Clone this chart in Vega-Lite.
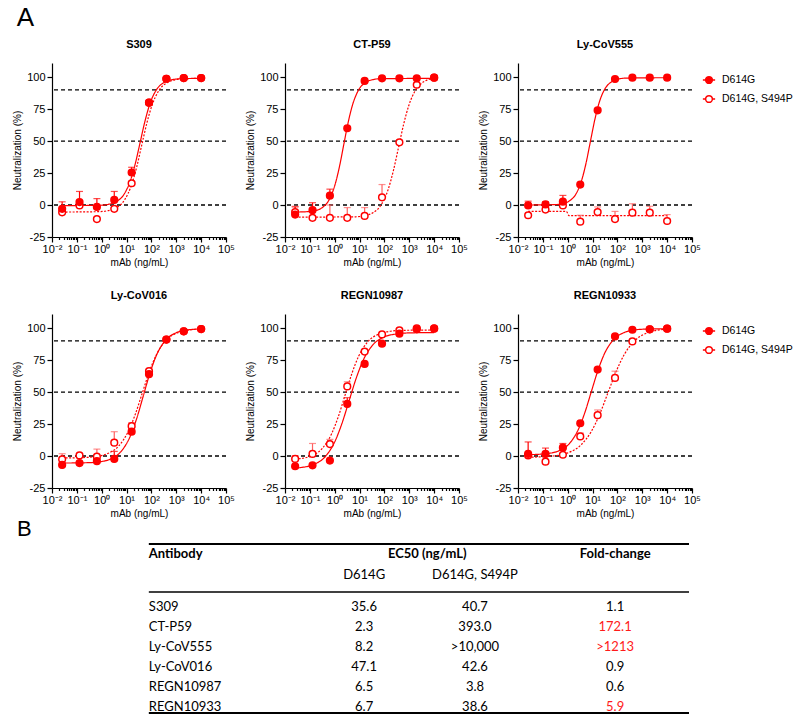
{
"$schema": "https://vega.github.io/schema/vega-lite/v6.json",
"padding": {"left": 12, "top": 5, "right": 5, "bottom": 5},
"background": "white",
"title": {"text": "A", "anchor": "start", "fontSize": 26, "fontWeight": "normal", "offset": 8, "frame": "bounds", "font": "Liberation Sans", "dx": 4},
"datasets": {
"levels": [{"y": 0}, {"y": 50}, {"y": 90}],
"points": [
{"ab":"S309","v":"D614G, S494P","lx":-1.592,"y":-5.7},
{"ab":"S309","v":"D614G, S494P","lx":-0.893,"y":-0.3},
{"ab":"S309","v":"D614G, S494P","lx":-0.194,"y":-11},
{"ab":"S309","v":"D614G, S494P","lx":0.505,"y":-3},
{"ab":"S309","v":"D614G, S494P","lx":1.204,"y":17},
{"ab":"S309","v":"D614G, S494P","lx":1.903,"y":80},
{"ab":"S309","v":"D614G, S494P","lx":2.602,"y":98.7},
{"ab":"S309","v":"D614G, S494P","lx":3.301,"y":99.2},
{"ab":"S309","v":"D614G, S494P","lx":4,"y":99.2},
{"ab":"CT-P59","v":"D614G, S494P","lx":-1.592,"y":-5.5,"hi":-1},
{"ab":"CT-P59","v":"D614G, S494P","lx":-0.893,"y":-10},
{"ab":"CT-P59","v":"D614G, S494P","lx":-0.194,"y":-10,"hi":0},
{"ab":"CT-P59","v":"D614G, S494P","lx":0.505,"y":-10,"hi":-2},
{"ab":"CT-P59","v":"D614G, S494P","lx":1.204,"y":-8.5,"hi":-2},
{"ab":"CT-P59","v":"D614G, S494P","lx":1.903,"y":6,"hi":16},
{"ab":"CT-P59","v":"D614G, S494P","lx":2.602,"y":49},
{"ab":"CT-P59","v":"D614G, S494P","lx":3.301,"y":94},
{"ab":"CT-P59","v":"D614G, S494P","lx":4,"y":99.5},
{"ab":"Ly-CoV555","v":"D614G, S494P","lx":-1.592,"y":-8},
{"ab":"Ly-CoV555","v":"D614G, S494P","lx":-0.893,"y":-3.6},
{"ab":"Ly-CoV555","v":"D614G, S494P","lx":-0.194,"y":-0.3},
{"ab":"Ly-CoV555","v":"D614G, S494P","lx":0.505,"y":-13,"hi":-8},
{"ab":"Ly-CoV555","v":"D614G, S494P","lx":1.204,"y":-5.5,"hi":-1.5},
{"ab":"Ly-CoV555","v":"D614G, S494P","lx":1.903,"y":-11,"hi":-5},
{"ab":"Ly-CoV555","v":"D614G, S494P","lx":2.602,"y":-6,"hi":1},
{"ab":"Ly-CoV555","v":"D614G, S494P","lx":3.301,"y":-6,"hi":-1},
{"ab":"Ly-CoV555","v":"D614G, S494P","lx":4,"y":-12.5,"hi":-7.5},
{"ab":"Ly-CoV016","v":"D614G, S494P","lx":-1.592,"y":-2.6,"hi":1.8},
{"ab":"Ly-CoV016","v":"D614G, S494P","lx":-0.893,"y":0.5},
{"ab":"Ly-CoV016","v":"D614G, S494P","lx":-0.194,"y":-0.5,"hi":5.4},
{"ab":"Ly-CoV016","v":"D614G, S494P","lx":0.505,"y":10.4,"hi":19},
{"ab":"Ly-CoV016","v":"D614G, S494P","lx":1.204,"y":23.3,"hi":26},
{"ab":"Ly-CoV016","v":"D614G, S494P","lx":1.903,"y":66.3},
{"ab":"Ly-CoV016","v":"D614G, S494P","lx":2.602,"y":91},
{"ab":"Ly-CoV016","v":"D614G, S494P","lx":3.301,"y":97.5},
{"ab":"Ly-CoV016","v":"D614G, S494P","lx":4,"y":99.2},
{"ab":"REGN10987","v":"D614G, S494P","lx":-1.592,"y":-2.3,"hi":0.3},
{"ab":"REGN10987","v":"D614G, S494P","lx":-0.893,"y":1.6,"hi":9.8},
{"ab":"REGN10987","v":"D614G, S494P","lx":-0.194,"y":9.3,"hi":13},
{"ab":"REGN10987","v":"D614G, S494P","lx":0.505,"y":54.4,"hi":58},
{"ab":"REGN10987","v":"D614G, S494P","lx":1.204,"y":81.6},
{"ab":"REGN10987","v":"D614G, S494P","lx":1.903,"y":95},
{"ab":"REGN10987","v":"D614G, S494P","lx":2.602,"y":98.2},
{"ab":"REGN10987","v":"D614G, S494P","lx":3.301,"y":99.7},
{"ab":"REGN10987","v":"D614G, S494P","lx":4,"y":99.7},
{"ab":"REGN10933","v":"D614G, S494P","lx":-1.592,"y":0.5},
{"ab":"REGN10933","v":"D614G, S494P","lx":-0.893,"y":-4.4},
{"ab":"REGN10933","v":"D614G, S494P","lx":-0.194,"y":1},
{"ab":"REGN10933","v":"D614G, S494P","lx":0.505,"y":15.3,"hi":18},
{"ab":"REGN10933","v":"D614G, S494P","lx":1.204,"y":31.9,"hi":36},
{"ab":"REGN10933","v":"D614G, S494P","lx":1.903,"y":61,"hi":66.3},
{"ab":"REGN10933","v":"D614G, S494P","lx":2.602,"y":89.6},
{"ab":"REGN10933","v":"D614G, S494P","lx":3.301,"y":99},
{"ab":"REGN10933","v":"D614G, S494P","lx":4,"y":99.5},
{"ab":"S309","v":"D614G","lx":-1.592,"y":-3,"hi":2.5},
{"ab":"S309","v":"D614G","lx":-0.893,"y":2.3,"hi":10.6},
{"ab":"S309","v":"D614G","lx":-0.194,"y":-1.5,"hi":5},
{"ab":"S309","v":"D614G","lx":0.505,"y":4,"hi":10.6},
{"ab":"S309","v":"D614G","lx":1.204,"y":25.4,"hi":29.5},
{"ab":"S309","v":"D614G","lx":1.903,"y":80},
{"ab":"S309","v":"D614G","lx":2.602,"y":98.7},
{"ab":"S309","v":"D614G","lx":3.301,"y":99.2},
{"ab":"S309","v":"D614G","lx":4,"y":99.2},
{"ab":"CT-P59","v":"D614G","lx":-1.592,"y":-7.5,"hi":-1.5},
{"ab":"CT-P59","v":"D614G","lx":-0.893,"y":-4,"hi":1.8},
{"ab":"CT-P59","v":"D614G","lx":-0.194,"y":7.3,"hi":12.4},
{"ab":"CT-P59","v":"D614G","lx":0.505,"y":60},
{"ab":"CT-P59","v":"D614G","lx":1.204,"y":97},
{"ab":"CT-P59","v":"D614G","lx":1.903,"y":99},
{"ab":"CT-P59","v":"D614G","lx":2.602,"y":99},
{"ab":"CT-P59","v":"D614G","lx":3.301,"y":99},
{"ab":"CT-P59","v":"D614G","lx":4,"y":99.5},
{"ab":"Ly-CoV555","v":"D614G","lx":-1.592,"y":-0.3,"hi":3},
{"ab":"Ly-CoV555","v":"D614G","lx":-0.893,"y":0.5,"hi":2.5},
{"ab":"Ly-CoV555","v":"D614G","lx":-0.194,"y":2.6,"hi":7.5},
{"ab":"Ly-CoV555","v":"D614G","lx":0.505,"y":16},
{"ab":"Ly-CoV555","v":"D614G","lx":1.204,"y":74},
{"ab":"Ly-CoV555","v":"D614G","lx":1.903,"y":98.5},
{"ab":"Ly-CoV555","v":"D614G","lx":2.602,"y":99.5},
{"ab":"Ly-CoV555","v":"D614G","lx":3.301,"y":99.5},
{"ab":"Ly-CoV555","v":"D614G","lx":4,"y":99.5},
{"ab":"Ly-CoV016","v":"D614G","lx":-1.592,"y":-7},
{"ab":"Ly-CoV016","v":"D614G","lx":-0.893,"y":-5.5},
{"ab":"Ly-CoV016","v":"D614G","lx":-0.194,"y":-4},
{"ab":"Ly-CoV016","v":"D614G","lx":0.505,"y":-2.3,"hi":3.6},
{"ab":"Ly-CoV016","v":"D614G","lx":1.204,"y":19},
{"ab":"Ly-CoV016","v":"D614G","lx":1.903,"y":64},
{"ab":"Ly-CoV016","v":"D614G","lx":2.602,"y":91},
{"ab":"Ly-CoV016","v":"D614G","lx":3.301,"y":97.5},
{"ab":"Ly-CoV016","v":"D614G","lx":4,"y":99.2},
{"ab":"REGN10987","v":"D614G","lx":-1.592,"y":-8},
{"ab":"REGN10987","v":"D614G","lx":-0.893,"y":-7.3},
{"ab":"REGN10987","v":"D614G","lx":-0.194,"y":-3.6},
{"ab":"REGN10987","v":"D614G","lx":0.505,"y":40.7,"hi":45.6},
{"ab":"REGN10987","v":"D614G","lx":1.204,"y":72},
{"ab":"REGN10987","v":"D614G","lx":1.903,"y":87.8},
{"ab":"REGN10987","v":"D614G","lx":2.602,"y":95.6},
{"ab":"REGN10987","v":"D614G","lx":3.301,"y":99},
{"ab":"REGN10987","v":"D614G","lx":4,"y":99.5},
{"ab":"REGN10933","v":"D614G","lx":-1.592,"y":1.6,"hi":11},
{"ab":"REGN10933","v":"D614G","lx":-0.893,"y":1.6,"hi":6.2},
{"ab":"REGN10933","v":"D614G","lx":-0.194,"y":6.5,"hi":9.8},
{"ab":"REGN10933","v":"D614G","lx":0.505,"y":25.6},
{"ab":"REGN10933","v":"D614G","lx":1.204,"y":67.6},
{"ab":"REGN10933","v":"D614G","lx":1.903,"y":93.5},
{"ab":"REGN10933","v":"D614G","lx":2.602,"y":98.7},
{"ab":"REGN10933","v":"D614G","lx":3.301,"y":99},
{"ab":"REGN10933","v":"D614G","lx":4,"y":99.5}
],
"curves": [
{"ab":"S309","v":"D614G","lx":-1.592,"y":-0.5},{"ab":"S309","v":"D614G","lx":-0.063,"y":-0.2},{"ab":"S309","v":"D614G","lx":0.26,"y":0.5},{"ab":"S309","v":"D614G","lx":0.582,"y":2.6},{"ab":"S309","v":"D614G","lx":0.905,"y":8.6},{"ab":"S309","v":"D614G","lx":1.163,"y":19.5},{"ab":"S309","v":"D614G","lx":1.356,"y":32.7},{"ab":"S309","v":"D614G","lx":1.55,"y":49.3},{"ab":"S309","v":"D614G","lx":1.744,"y":65.8},{"ab":"S309","v":"D614G","lx":1.937,"y":79},{"ab":"S309","v":"D614G","lx":2.195,"y":89.9},{"ab":"S309","v":"D614G","lx":2.518,"y":95.9},{"ab":"S309","v":"D614G","lx":2.84,"y":98},{"ab":"S309","v":"D614G","lx":3.163,"y":98.7},{"ab":"S309","v":"D614G","lx":4,"y":99},
{"ab":"S309","v":"D614G, S494P","lx":-1.592,"y":-5.5},{"ab":"S309","v":"D614G, S494P","lx":-0.114,"y":-5.2},{"ab":"S309","v":"D614G, S494P","lx":0.231,"y":-4.5},{"ab":"S309","v":"D614G, S494P","lx":0.576,"y":-2.3},{"ab":"S309","v":"D614G, S494P","lx":0.92,"y":4},{"ab":"S309","v":"D614G, S494P","lx":1.196,"y":15.5},{"ab":"S309","v":"D614G, S494P","lx":1.403,"y":29.4},{"ab":"S309","v":"D614G, S494P","lx":1.61,"y":46.8},{"ab":"S309","v":"D614G, S494P","lx":1.817,"y":64.1},{"ab":"S309","v":"D614G, S494P","lx":2.024,"y":78},{"ab":"S309","v":"D614G, S494P","lx":2.3,"y":89.5},{"ab":"S309","v":"D614G, S494P","lx":2.644,"y":95.8},{"ab":"S309","v":"D614G, S494P","lx":2.989,"y":98},{"ab":"S309","v":"D614G, S494P","lx":3.334,"y":98.7},{"ab":"S309","v":"D614G, S494P","lx":4,"y":99},
{"ab":"CT-P59","v":"D614G","lx":-1.592,"y":-5.5},{"ab":"CT-P59","v":"D614G","lx":-1.111,"y":-5.2},{"ab":"CT-P59","v":"D614G","lx":-0.816,"y":-4.5},{"ab":"CT-P59","v":"D614G","lx":-0.522,"y":-2.3},{"ab":"CT-P59","v":"D614G","lx":-0.228,"y":4},{"ab":"CT-P59","v":"D614G","lx":0.007,"y":15.5},{"ab":"CT-P59","v":"D614G","lx":0.184,"y":29.4},{"ab":"CT-P59","v":"D614G","lx":0.36,"y":46.8},{"ab":"CT-P59","v":"D614G","lx":0.536,"y":64.1},{"ab":"CT-P59","v":"D614G","lx":0.713,"y":78},{"ab":"CT-P59","v":"D614G","lx":0.948,"y":89.5},{"ab":"CT-P59","v":"D614G","lx":1.242,"y":95.8},{"ab":"CT-P59","v":"D614G","lx":1.536,"y":98},{"ab":"CT-P59","v":"D614G","lx":1.831,"y":98.7},{"ab":"CT-P59","v":"D614G","lx":4,"y":99},
{"ab":"CT-P59","v":"D614G, S494P","lx":-1.592,"y":-9.5},{"ab":"CT-P59","v":"D614G, S494P","lx":0.846,"y":-9.2},{"ab":"CT-P59","v":"D614G, S494P","lx":1.191,"y":-8.4},{"ab":"CT-P59","v":"D614G, S494P","lx":1.536,"y":-6.1},{"ab":"CT-P59","v":"D614G, S494P","lx":1.88,"y":0.5},{"ab":"CT-P59","v":"D614G, S494P","lx":2.156,"y":12.5},{"ab":"CT-P59","v":"D614G, S494P","lx":2.363,"y":27.1},{"ab":"CT-P59","v":"D614G, S494P","lx":2.57,"y":45.3},{"ab":"CT-P59","v":"D614G, S494P","lx":2.777,"y":63.4},{"ab":"CT-P59","v":"D614G, S494P","lx":2.984,"y":78},{"ab":"CT-P59","v":"D614G, S494P","lx":3.26,"y":90},{"ab":"CT-P59","v":"D614G, S494P","lx":3.604,"y":96.6},{"ab":"CT-P59","v":"D614G, S494P","lx":4,"y":99.1},
{"ab":"Ly-CoV555","v":"D614G","lx":-1.592,"y":0},{"ab":"Ly-CoV555","v":"D614G","lx":-0.515,"y":0.3},{"ab":"Ly-CoV555","v":"D614G","lx":-0.229,"y":1},{"ab":"Ly-CoV555","v":"D614G","lx":0.057,"y":3.1},{"ab":"Ly-CoV555","v":"D614G","lx":0.343,"y":9},{"ab":"Ly-CoV555","v":"D614G","lx":0.571,"y":20},{"ab":"Ly-CoV555","v":"D614G","lx":0.743,"y":33.2},{"ab":"Ly-CoV555","v":"D614G","lx":0.914,"y":49.8},{"ab":"Ly-CoV555","v":"D614G","lx":1.085,"y":66.3},{"ab":"Ly-CoV555","v":"D614G","lx":1.257,"y":79.5},{"ab":"Ly-CoV555","v":"D614G","lx":1.485,"y":90.4},{"ab":"Ly-CoV555","v":"D614G","lx":1.771,"y":96.4},{"ab":"Ly-CoV555","v":"D614G","lx":2.057,"y":98.5},{"ab":"Ly-CoV555","v":"D614G","lx":2.343,"y":99.2},{"ab":"Ly-CoV555","v":"D614G","lx":4,"y":99.5},
{"ab":"Ly-CoV555","v":"D614G, S494P","lx":-1.592,"y":-5},{"ab":"Ly-CoV555","v":"D614G, S494P","lx":-0.05,"y":-5},{"ab":"Ly-CoV555","v":"D614G, S494P","lx":0.05,"y":-8.3},{"ab":"Ly-CoV555","v":"D614G, S494P","lx":4,"y":-8.3},
{"ab":"Ly-CoV016","v":"D614G","lx":-1.592,"y":-5.5},{"ab":"Ly-CoV016","v":"D614G","lx":-0.501,"y":-5.2},{"ab":"Ly-CoV016","v":"D614G","lx":-0.066,"y":-4.5},{"ab":"Ly-CoV016","v":"D614G","lx":0.369,"y":-2.2},{"ab":"Ly-CoV016","v":"D614G","lx":0.803,"y":4.1},{"ab":"Ly-CoV016","v":"D614G","lx":1.151,"y":15.6},{"ab":"Ly-CoV016","v":"D614G","lx":1.412,"y":29.6},{"ab":"Ly-CoV016","v":"D614G","lx":1.673,"y":47},{"ab":"Ly-CoV016","v":"D614G","lx":1.934,"y":64.4},{"ab":"Ly-CoV016","v":"D614G","lx":2.195,"y":78.4},{"ab":"Ly-CoV016","v":"D614G","lx":2.543,"y":90},{"ab":"Ly-CoV016","v":"D614G","lx":2.977,"y":96.2},{"ab":"Ly-CoV016","v":"D614G","lx":3.412,"y":98.5},{"ab":"Ly-CoV016","v":"D614G","lx":4,"y":99.3},
{"ab":"Ly-CoV016","v":"D614G, S494P","lx":-1.592,"y":-1.5},{"ab":"Ly-CoV016","v":"D614G, S494P","lx":-0.752,"y":-1.2},{"ab":"Ly-CoV016","v":"D614G, S494P","lx":-0.276,"y":-0.5},{"ab":"Ly-CoV016","v":"D614G, S494P","lx":0.2,"y":1.6},{"ab":"Ly-CoV016","v":"D614G, S494P","lx":0.677,"y":7.7},{"ab":"Ly-CoV016","v":"D614G, S494P","lx":1.058,"y":18.8},{"ab":"Ly-CoV016","v":"D614G, S494P","lx":1.343,"y":32.2},{"ab":"Ly-CoV016","v":"D614G, S494P","lx":1.629,"y":49},{"ab":"Ly-CoV016","v":"D614G, S494P","lx":1.915,"y":65.8},{"ab":"Ly-CoV016","v":"D614G, S494P","lx":2.2,"y":79.2},{"ab":"Ly-CoV016","v":"D614G, S494P","lx":2.581,"y":90.3},{"ab":"Ly-CoV016","v":"D614G, S494P","lx":3.058,"y":96.4},{"ab":"Ly-CoV016","v":"D614G, S494P","lx":3.534,"y":98.5},{"ab":"Ly-CoV016","v":"D614G, S494P","lx":4,"y":99.2},
{"ab":"REGN10987","v":"D614G","lx":-1.592,"y":-9.4},{"ab":"REGN10987","v":"D614G","lx":-1.325,"y":-8.9},{"ab":"REGN10987","v":"D614G","lx":-0.849,"y":-6.7},{"ab":"REGN10987","v":"D614G","lx":-0.372,"y":-0.3},{"ab":"REGN10987","v":"D614G","lx":0.009,"y":11.4},{"ab":"REGN10987","v":"D614G","lx":0.294,"y":25.6},{"ab":"REGN10987","v":"D614G","lx":0.58,"y":43.3},{"ab":"REGN10987","v":"D614G","lx":0.866,"y":60.9},{"ab":"REGN10987","v":"D614G","lx":1.151,"y":75.1},{"ab":"REGN10987","v":"D614G","lx":1.532,"y":86.8},{"ab":"REGN10987","v":"D614G","lx":2.009,"y":93.2},{"ab":"REGN10987","v":"D614G","lx":2.485,"y":95.4},{"ab":"REGN10987","v":"D614G","lx":2.961,"y":96.2},{"ab":"REGN10987","v":"D614G","lx":4,"y":96.5},
{"ab":"REGN10987","v":"D614G, S494P","lx":-1.592,"y":-2.35},{"ab":"REGN10987","v":"D614G, S494P","lx":-1.398,"y":-2},{"ab":"REGN10987","v":"D614G, S494P","lx":-0.944,"y":0.1},{"ab":"REGN10987","v":"D614G, S494P","lx":-0.489,"y":6.2},{"ab":"REGN10987","v":"D614G, S494P","lx":-0.125,"y":17.4},{"ab":"REGN10987","v":"D614G, S494P","lx":0.147,"y":30.9},{"ab":"REGN10987","v":"D614G, S494P","lx":0.42,"y":47.8},{"ab":"REGN10987","v":"D614G, S494P","lx":0.693,"y":64.6},{"ab":"REGN10987","v":"D614G, S494P","lx":0.965,"y":78.1},{"ab":"REGN10987","v":"D614G, S494P","lx":1.329,"y":89.3},{"ab":"REGN10987","v":"D614G, S494P","lx":1.784,"y":95.4},{"ab":"REGN10987","v":"D614G, S494P","lx":2.238,"y":97.5},{"ab":"REGN10987","v":"D614G, S494P","lx":2.693,"y":98.2},{"ab":"REGN10987","v":"D614G, S494P","lx":4,"y":98.5},
{"ab":"REGN10933","v":"D614G","lx":-1.592,"y":1.1},{"ab":"REGN10933","v":"D614G","lx":-1.224,"y":1.3},{"ab":"REGN10933","v":"D614G","lx":-0.789,"y":2},{"ab":"REGN10933","v":"D614G","lx":-0.354,"y":4.1},{"ab":"REGN10933","v":"D614G","lx":0.08,"y":10},{"ab":"REGN10933","v":"D614G","lx":0.428,"y":20.8},{"ab":"REGN10933","v":"D614G","lx":0.689,"y":33.9},{"ab":"REGN10933","v":"D614G","lx":0.95,"y":50.3},{"ab":"REGN10933","v":"D614G","lx":1.211,"y":66.6},{"ab":"REGN10933","v":"D614G","lx":1.472,"y":79.7},{"ab":"REGN10933","v":"D614G","lx":1.82,"y":90.5},{"ab":"REGN10933","v":"D614G","lx":2.254,"y":96.4},{"ab":"REGN10933","v":"D614G","lx":2.689,"y":98.5},{"ab":"REGN10933","v":"D614G","lx":3.124,"y":99.2},{"ab":"REGN10933","v":"D614G","lx":4,"y":99.5},
{"ab":"REGN10933","v":"D614G, S494P","lx":-1.592,"y":-0.87},{"ab":"REGN10933","v":"D614G, S494P","lx":-1.158,"y":-0.7},{"ab":"REGN10933","v":"D614G, S494P","lx":-0.602,"y":0},{"ab":"REGN10933","v":"D614G, S494P","lx":-0.047,"y":2.1},{"ab":"REGN10933","v":"D614G, S494P","lx":0.509,"y":8.2},{"ab":"REGN10933","v":"D614G, S494P","lx":0.953,"y":19.3},{"ab":"REGN10933","v":"D614G, S494P","lx":1.287,"y":32.7},{"ab":"REGN10933","v":"D614G, S494P","lx":1.62,"y":49.5},{"ab":"REGN10933","v":"D614G, S494P","lx":1.953,"y":66.3},{"ab":"REGN10933","v":"D614G, S494P","lx":2.287,"y":79.7},{"ab":"REGN10933","v":"D614G, S494P","lx":2.731,"y":90.8},{"ab":"REGN10933","v":"D614G, S494P","lx":3.287,"y":96.9},{"ab":"REGN10933","v":"D614G, S494P","lx":3.842,"y":99},{"ab":"REGN10933","v":"D614G, S494P","lx":4,"y":99.4}
],
"table": [
{"row":1,"Antibody":"S309","D614G":"35.6","S494P":"40.7","Fold":"1.1"},
{"row":2,"Antibody":"CT-P59","D614G":"2.3","S494P":"393.0","Fold":"172.1"},
{"row":3,"Antibody":"Ly-CoV555","D614G":"8.2","S494P":">10,000","Fold":">1213"},
{"row":4,"Antibody":"Ly-CoV016","D614G":"47.1","S494P":"42.6","Fold":"0.9"},
{"row":5,"Antibody":"REGN10987","D614G":"6.5","S494P":"3.8","Fold":"0.6"},
{"row":6,"Antibody":"REGN10933","D614G":"6.7","S494P":"38.6","Fold":"5.9"}
]
},
"spacing": 0,
"resolve": {"scale": {"fill": "independent"}, "legend": {"fill": "independent"}},
"vconcat": [
{"spacing": 23, "resolve": {"scale": {"fill": "independent"}, "legend": {"fill": "independent"}}, "vconcat": [
{"spacing": 10, "resolve": {"scale": {"fill": "independent"}, "legend": {"fill": "independent"}}, "hconcat": [
{"title": "S309", "width": 174, "height": 174, "resolve": {"axis": {"x": "independent"}}, "layer": [
{"data": {"name": "levels"}, "mark": {"type": "rule", "strokeDash": [4, 3], "color": "black", "strokeWidth": 1.3}, "encoding": {"y": {"field": "y", "type": "quantitative", "title": "Neutralization (%)", "scale": {"domain": [-25, 111], "nice": false, "zero": false}, "axis": {"values": [-25, 0, 25, 50, 75, 100], "labelExpr": "toString(datum.value)", "labelOverlap": false, "tickSize": 5}}}},
{"data": {"name": "curves"}, "transform": [{"filter": "datum.ab == 'S309'"}], "mark": {"type": "line", "interpolate": "monotone", "color": "#ff0000", "strokeWidth": 1.2}, "encoding": {"x": {"field": "lx", "type": "quantitative", "scale": {"domain": [-2, 5], "nice": false, "zero": false}, "axis": {"orient": "bottom", "title": null, "labels": false, "domain": false, "tickSize": 2.5, "values": [-1.699,-1.523,-1.398,-1.301,-1.222,-1.155,-1.097,-1.046,-0.699,-0.523,-0.398,-0.301,-0.222,-0.155,-0.097,-0.046,0.301,0.477,0.602,0.699,0.778,0.845,0.903,0.954,1.301,1.477,1.602,1.699,1.778,1.845,1.903,1.954,2.301,2.477,2.602,2.699,2.778,2.845,2.903,2.954,3.301,3.477,3.602,3.699,3.778,3.845,3.903,3.954,4.301,4.477,4.602,4.699,4.778,4.845,4.903,4.954]}}, "y": {"field": "y", "type": "quantitative", "title": "Neutralization (%)", "scale": {"domain": [-25, 111], "nice": false, "zero": false}, "axis": {"values": [-25, 0, 25, 50, 75, 100], "labelExpr": "toString(datum.value)", "labelOverlap": false, "tickSize": 5}}, "detail": {"field": "v", "type": "nominal"}, "strokeDash": {"condition": {"test": "datum.v == 'D614G'", "value": [1, 0]}, "value": [2, 1.5]}}},
{"data": {"name": "points"}, "transform": [{"filter": "datum.ab == 'S309' && isValid(datum.hi)"}], "mark": {"type": "rule", "strokeWidth": 1.2}, "encoding": {"x": {"field": "lx", "type": "quantitative", "axis": null}, "y": {"field": "y", "type": "quantitative", "title": "Neutralization (%)", "scale": {"domain": [-25, 111], "nice": false, "zero": false}, "axis": {"values": [-25, 0, 25, 50, 75, 100], "labelExpr": "toString(datum.value)", "labelOverlap": false, "tickSize": 5}}, "y2": {"field": "hi"}, "color": {"condition": {"test": "datum.v == 'D614G'", "value": "#ff0000"}, "value": "#ff6060"}}},
{"data": {"name": "points"}, "transform": [{"filter": "datum.ab == 'S309' && isValid(datum.hi)"}], "mark": {"type": "tick", "orient": "horizontal", "size": 7, "thickness": 1.2}, "encoding": {"x": {"field": "lx", "type": "quantitative", "axis": null}, "y": {"field": "hi", "type": "quantitative", "title": "Neutralization (%)", "scale": {"domain": [-25, 111], "nice": false, "zero": false}, "axis": {"values": [-25, 0, 25, 50, 75, 100], "labelExpr": "toString(datum.value)", "labelOverlap": false, "tickSize": 5}}, "color": {"condition": {"test": "datum.v == 'D614G'", "value": "#ff0000"}, "value": "#ff6060"}}},
{"data": {"name": "points"}, "transform": [{"filter": "datum.ab == 'S309'"}], "mark": {"type": "point", "filled": true, "stroke": "#ff0000", "strokeWidth": 1.5, "size": 45, "opacity": 1}, "encoding": {"x": {"field": "lx", "type": "quantitative", "title": "mAb (ng/mL)", "axis": {"orient": "bottom", "values": [-2, -1, 0, 1, 2, 3, 4, 5], "labelExpr": "'10' + ['⁻²','⁻¹','⁰','¹','²','³','⁴','⁵'][datum.value + 2]", "labelOverlap": false, "labelFlush": false, "tickSize": 5}}, "y": {"field": "y", "type": "quantitative", "title": "Neutralization (%)", "scale": {"domain": [-25, 111], "nice": false, "zero": false}, "axis": {"values": [-25, 0, 25, 50, 75, 100], "labelExpr": "toString(datum.value)", "labelOverlap": false, "tickSize": 5}}, "fill": {"field": "v", "type": "nominal", "scale": {"domain": ["D614G", "D614G, S494P"], "range": ["#ff0000", "#ffffff"]}, "legend": null}}}
]},
{"title": "CT-P59", "width": 174, "height": 174, "resolve": {"axis": {"x": "independent"}}, "layer": [
{"data": {"name": "levels"}, "mark": {"type": "rule", "strokeDash": [4, 3], "color": "black", "strokeWidth": 1.3}, "encoding": {"y": {"field": "y", "type": "quantitative", "title": "Neutralization (%)", "scale": {"domain": [-25, 111], "nice": false, "zero": false}, "axis": {"values": [-25, 0, 25, 50, 75, 100], "labelExpr": "toString(datum.value)", "labelOverlap": false, "tickSize": 5}}}},
{"data": {"name": "curves"}, "transform": [{"filter": "datum.ab == 'CT-P59'"}], "mark": {"type": "line", "interpolate": "monotone", "color": "#ff0000", "strokeWidth": 1.2}, "encoding": {"x": {"field": "lx", "type": "quantitative", "scale": {"domain": [-2, 5], "nice": false, "zero": false}, "axis": {"orient": "bottom", "title": null, "labels": false, "domain": false, "tickSize": 2.5, "values": [-1.699,-1.523,-1.398,-1.301,-1.222,-1.155,-1.097,-1.046,-0.699,-0.523,-0.398,-0.301,-0.222,-0.155,-0.097,-0.046,0.301,0.477,0.602,0.699,0.778,0.845,0.903,0.954,1.301,1.477,1.602,1.699,1.778,1.845,1.903,1.954,2.301,2.477,2.602,2.699,2.778,2.845,2.903,2.954,3.301,3.477,3.602,3.699,3.778,3.845,3.903,3.954,4.301,4.477,4.602,4.699,4.778,4.845,4.903,4.954]}}, "y": {"field": "y", "type": "quantitative", "title": "Neutralization (%)", "scale": {"domain": [-25, 111], "nice": false, "zero": false}, "axis": {"values": [-25, 0, 25, 50, 75, 100], "labelExpr": "toString(datum.value)", "labelOverlap": false, "tickSize": 5}}, "detail": {"field": "v", "type": "nominal"}, "strokeDash": {"condition": {"test": "datum.v == 'D614G'", "value": [1, 0]}, "value": [2, 1.5]}}},
{"data": {"name": "points"}, "transform": [{"filter": "datum.ab == 'CT-P59' && isValid(datum.hi)"}], "mark": {"type": "rule", "strokeWidth": 1.2}, "encoding": {"x": {"field": "lx", "type": "quantitative", "axis": null}, "y": {"field": "y", "type": "quantitative", "title": "Neutralization (%)", "scale": {"domain": [-25, 111], "nice": false, "zero": false}, "axis": {"values": [-25, 0, 25, 50, 75, 100], "labelExpr": "toString(datum.value)", "labelOverlap": false, "tickSize": 5}}, "y2": {"field": "hi"}, "color": {"condition": {"test": "datum.v == 'D614G'", "value": "#ff0000"}, "value": "#ff6060"}}},
{"data": {"name": "points"}, "transform": [{"filter": "datum.ab == 'CT-P59' && isValid(datum.hi)"}], "mark": {"type": "tick", "orient": "horizontal", "size": 7, "thickness": 1.2}, "encoding": {"x": {"field": "lx", "type": "quantitative", "axis": null}, "y": {"field": "hi", "type": "quantitative", "title": "Neutralization (%)", "scale": {"domain": [-25, 111], "nice": false, "zero": false}, "axis": {"values": [-25, 0, 25, 50, 75, 100], "labelExpr": "toString(datum.value)", "labelOverlap": false, "tickSize": 5}}, "color": {"condition": {"test": "datum.v == 'D614G'", "value": "#ff0000"}, "value": "#ff6060"}}},
{"data": {"name": "points"}, "transform": [{"filter": "datum.ab == 'CT-P59'"}], "mark": {"type": "point", "filled": true, "stroke": "#ff0000", "strokeWidth": 1.5, "size": 45, "opacity": 1}, "encoding": {"x": {"field": "lx", "type": "quantitative", "title": "mAb (ng/mL)", "axis": {"orient": "bottom", "values": [-2, -1, 0, 1, 2, 3, 4, 5], "labelExpr": "'10' + ['⁻²','⁻¹','⁰','¹','²','³','⁴','⁵'][datum.value + 2]", "labelOverlap": false, "labelFlush": false, "tickSize": 5}}, "y": {"field": "y", "type": "quantitative", "title": "Neutralization (%)", "scale": {"domain": [-25, 111], "nice": false, "zero": false}, "axis": {"values": [-25, 0, 25, 50, 75, 100], "labelExpr": "toString(datum.value)", "labelOverlap": false, "tickSize": 5}}, "fill": {"field": "v", "type": "nominal", "scale": {"domain": ["D614G", "D614G, S494P"], "range": ["#ff0000", "#ffffff"]}, "legend": null}}}
]},
{"title": "Ly-CoV555", "width": 174, "height": 174, "resolve": {"axis": {"x": "independent"}}, "layer": [
{"data": {"name": "levels"}, "mark": {"type": "rule", "strokeDash": [4, 3], "color": "black", "strokeWidth": 1.3}, "encoding": {"y": {"field": "y", "type": "quantitative", "title": "Neutralization (%)", "scale": {"domain": [-25, 111], "nice": false, "zero": false}, "axis": {"values": [-25, 0, 25, 50, 75, 100], "labelExpr": "toString(datum.value)", "labelOverlap": false, "tickSize": 5}}}},
{"data": {"name": "curves"}, "transform": [{"filter": "datum.ab == 'Ly-CoV555'"}], "mark": {"type": "line", "interpolate": "monotone", "color": "#ff0000", "strokeWidth": 1.2}, "encoding": {"x": {"field": "lx", "type": "quantitative", "scale": {"domain": [-2, 5], "nice": false, "zero": false}, "axis": {"orient": "bottom", "title": null, "labels": false, "domain": false, "tickSize": 2.5, "values": [-1.699,-1.523,-1.398,-1.301,-1.222,-1.155,-1.097,-1.046,-0.699,-0.523,-0.398,-0.301,-0.222,-0.155,-0.097,-0.046,0.301,0.477,0.602,0.699,0.778,0.845,0.903,0.954,1.301,1.477,1.602,1.699,1.778,1.845,1.903,1.954,2.301,2.477,2.602,2.699,2.778,2.845,2.903,2.954,3.301,3.477,3.602,3.699,3.778,3.845,3.903,3.954,4.301,4.477,4.602,4.699,4.778,4.845,4.903,4.954]}}, "y": {"field": "y", "type": "quantitative", "title": "Neutralization (%)", "scale": {"domain": [-25, 111], "nice": false, "zero": false}, "axis": {"values": [-25, 0, 25, 50, 75, 100], "labelExpr": "toString(datum.value)", "labelOverlap": false, "tickSize": 5}}, "detail": {"field": "v", "type": "nominal"}, "strokeDash": {"condition": {"test": "datum.v == 'D614G'", "value": [1, 0]}, "value": [2, 1.5]}}},
{"data": {"name": "points"}, "transform": [{"filter": "datum.ab == 'Ly-CoV555' && isValid(datum.hi)"}], "mark": {"type": "rule", "strokeWidth": 1.2}, "encoding": {"x": {"field": "lx", "type": "quantitative", "axis": null}, "y": {"field": "y", "type": "quantitative", "title": "Neutralization (%)", "scale": {"domain": [-25, 111], "nice": false, "zero": false}, "axis": {"values": [-25, 0, 25, 50, 75, 100], "labelExpr": "toString(datum.value)", "labelOverlap": false, "tickSize": 5}}, "y2": {"field": "hi"}, "color": {"condition": {"test": "datum.v == 'D614G'", "value": "#ff0000"}, "value": "#ff6060"}}},
{"data": {"name": "points"}, "transform": [{"filter": "datum.ab == 'Ly-CoV555' && isValid(datum.hi)"}], "mark": {"type": "tick", "orient": "horizontal", "size": 7, "thickness": 1.2}, "encoding": {"x": {"field": "lx", "type": "quantitative", "axis": null}, "y": {"field": "hi", "type": "quantitative", "title": "Neutralization (%)", "scale": {"domain": [-25, 111], "nice": false, "zero": false}, "axis": {"values": [-25, 0, 25, 50, 75, 100], "labelExpr": "toString(datum.value)", "labelOverlap": false, "tickSize": 5}}, "color": {"condition": {"test": "datum.v == 'D614G'", "value": "#ff0000"}, "value": "#ff6060"}}},
{"data": {"name": "points"}, "transform": [{"filter": "datum.ab == 'Ly-CoV555'"}], "mark": {"type": "point", "filled": true, "stroke": "#ff0000", "strokeWidth": 1.5, "size": 45, "opacity": 1}, "encoding": {"x": {"field": "lx", "type": "quantitative", "title": "mAb (ng/mL)", "axis": {"orient": "bottom", "values": [-2, -1, 0, 1, 2, 3, 4, 5], "labelExpr": "'10' + ['⁻²','⁻¹','⁰','¹','²','³','⁴','⁵'][datum.value + 2]", "labelOverlap": false, "labelFlush": false, "tickSize": 5}}, "y": {"field": "y", "type": "quantitative", "title": "Neutralization (%)", "scale": {"domain": [-25, 111], "nice": false, "zero": false}, "axis": {"values": [-25, 0, 25, 50, 75, 100], "labelExpr": "toString(datum.value)", "labelOverlap": false, "tickSize": 5}}, "fill": {"field": "v", "type": "nominal", "scale": {"domain": ["D614G", "D614G, S494P"], "range": ["#ff0000", "#ffffff"]}, "legend": {"title": null, "orient": "right", "offset": 0, "padding": 10, "symbolType": "M-1,0L-0.55,0M0.55,0L1,0M0.55,0A0.55,0.55,0,1,1,-0.55,0A0.55,0.55,0,1,1,0.55,0Z", "symbolSize": 150, "symbolStrokeColor": "#ff0000", "symbolStrokeWidth": 1.5, "labelFontSize": 10.5, "labelFont": "Liberation Sans", "labelColor": "black", "rowPadding": 5, "labelOffset": 6}}}}
]}
]},
{"spacing": 10, "resolve": {"scale": {"fill": "independent"}, "legend": {"fill": "independent"}}, "hconcat": [
{"title": "Ly-CoV016", "width": 174, "height": 174, "resolve": {"axis": {"x": "independent"}}, "layer": [
{"data": {"name": "levels"}, "mark": {"type": "rule", "strokeDash": [4, 3], "color": "black", "strokeWidth": 1.3}, "encoding": {"y": {"field": "y", "type": "quantitative", "title": "Neutralization (%)", "scale": {"domain": [-25, 111], "nice": false, "zero": false}, "axis": {"values": [-25, 0, 25, 50, 75, 100], "labelExpr": "toString(datum.value)", "labelOverlap": false, "tickSize": 5}}}},
{"data": {"name": "curves"}, "transform": [{"filter": "datum.ab == 'Ly-CoV016'"}], "mark": {"type": "line", "interpolate": "monotone", "color": "#ff0000", "strokeWidth": 1.2}, "encoding": {"x": {"field": "lx", "type": "quantitative", "scale": {"domain": [-2, 5], "nice": false, "zero": false}, "axis": {"orient": "bottom", "title": null, "labels": false, "domain": false, "tickSize": 2.5, "values": [-1.699,-1.523,-1.398,-1.301,-1.222,-1.155,-1.097,-1.046,-0.699,-0.523,-0.398,-0.301,-0.222,-0.155,-0.097,-0.046,0.301,0.477,0.602,0.699,0.778,0.845,0.903,0.954,1.301,1.477,1.602,1.699,1.778,1.845,1.903,1.954,2.301,2.477,2.602,2.699,2.778,2.845,2.903,2.954,3.301,3.477,3.602,3.699,3.778,3.845,3.903,3.954,4.301,4.477,4.602,4.699,4.778,4.845,4.903,4.954]}}, "y": {"field": "y", "type": "quantitative", "title": "Neutralization (%)", "scale": {"domain": [-25, 111], "nice": false, "zero": false}, "axis": {"values": [-25, 0, 25, 50, 75, 100], "labelExpr": "toString(datum.value)", "labelOverlap": false, "tickSize": 5}}, "detail": {"field": "v", "type": "nominal"}, "strokeDash": {"condition": {"test": "datum.v == 'D614G'", "value": [1, 0]}, "value": [2, 1.5]}}},
{"data": {"name": "points"}, "transform": [{"filter": "datum.ab == 'Ly-CoV016' && isValid(datum.hi)"}], "mark": {"type": "rule", "strokeWidth": 1.2}, "encoding": {"x": {"field": "lx", "type": "quantitative", "axis": null}, "y": {"field": "y", "type": "quantitative", "title": "Neutralization (%)", "scale": {"domain": [-25, 111], "nice": false, "zero": false}, "axis": {"values": [-25, 0, 25, 50, 75, 100], "labelExpr": "toString(datum.value)", "labelOverlap": false, "tickSize": 5}}, "y2": {"field": "hi"}, "color": {"condition": {"test": "datum.v == 'D614G'", "value": "#ff0000"}, "value": "#ff6060"}}},
{"data": {"name": "points"}, "transform": [{"filter": "datum.ab == 'Ly-CoV016' && isValid(datum.hi)"}], "mark": {"type": "tick", "orient": "horizontal", "size": 7, "thickness": 1.2}, "encoding": {"x": {"field": "lx", "type": "quantitative", "axis": null}, "y": {"field": "hi", "type": "quantitative", "title": "Neutralization (%)", "scale": {"domain": [-25, 111], "nice": false, "zero": false}, "axis": {"values": [-25, 0, 25, 50, 75, 100], "labelExpr": "toString(datum.value)", "labelOverlap": false, "tickSize": 5}}, "color": {"condition": {"test": "datum.v == 'D614G'", "value": "#ff0000"}, "value": "#ff6060"}}},
{"data": {"name": "points"}, "transform": [{"filter": "datum.ab == 'Ly-CoV016'"}], "mark": {"type": "point", "filled": true, "stroke": "#ff0000", "strokeWidth": 1.5, "size": 45, "opacity": 1}, "encoding": {"x": {"field": "lx", "type": "quantitative", "title": "mAb (ng/mL)", "axis": {"orient": "bottom", "values": [-2, -1, 0, 1, 2, 3, 4, 5], "labelExpr": "'10' + ['⁻²','⁻¹','⁰','¹','²','³','⁴','⁵'][datum.value + 2]", "labelOverlap": false, "labelFlush": false, "tickSize": 5}}, "y": {"field": "y", "type": "quantitative", "title": "Neutralization (%)", "scale": {"domain": [-25, 111], "nice": false, "zero": false}, "axis": {"values": [-25, 0, 25, 50, 75, 100], "labelExpr": "toString(datum.value)", "labelOverlap": false, "tickSize": 5}}, "fill": {"field": "v", "type": "nominal", "scale": {"domain": ["D614G", "D614G, S494P"], "range": ["#ff0000", "#ffffff"]}, "legend": null}}}
]},
{"title": "REGN10987", "width": 174, "height": 174, "resolve": {"axis": {"x": "independent"}}, "layer": [
{"data": {"name": "levels"}, "mark": {"type": "rule", "strokeDash": [4, 3], "color": "black", "strokeWidth": 1.3}, "encoding": {"y": {"field": "y", "type": "quantitative", "title": "Neutralization (%)", "scale": {"domain": [-25, 111], "nice": false, "zero": false}, "axis": {"values": [-25, 0, 25, 50, 75, 100], "labelExpr": "toString(datum.value)", "labelOverlap": false, "tickSize": 5}}}},
{"data": {"name": "curves"}, "transform": [{"filter": "datum.ab == 'REGN10987'"}], "mark": {"type": "line", "interpolate": "monotone", "color": "#ff0000", "strokeWidth": 1.2}, "encoding": {"x": {"field": "lx", "type": "quantitative", "scale": {"domain": [-2, 5], "nice": false, "zero": false}, "axis": {"orient": "bottom", "title": null, "labels": false, "domain": false, "tickSize": 2.5, "values": [-1.699,-1.523,-1.398,-1.301,-1.222,-1.155,-1.097,-1.046,-0.699,-0.523,-0.398,-0.301,-0.222,-0.155,-0.097,-0.046,0.301,0.477,0.602,0.699,0.778,0.845,0.903,0.954,1.301,1.477,1.602,1.699,1.778,1.845,1.903,1.954,2.301,2.477,2.602,2.699,2.778,2.845,2.903,2.954,3.301,3.477,3.602,3.699,3.778,3.845,3.903,3.954,4.301,4.477,4.602,4.699,4.778,4.845,4.903,4.954]}}, "y": {"field": "y", "type": "quantitative", "title": "Neutralization (%)", "scale": {"domain": [-25, 111], "nice": false, "zero": false}, "axis": {"values": [-25, 0, 25, 50, 75, 100], "labelExpr": "toString(datum.value)", "labelOverlap": false, "tickSize": 5}}, "detail": {"field": "v", "type": "nominal"}, "strokeDash": {"condition": {"test": "datum.v == 'D614G'", "value": [1, 0]}, "value": [2, 1.5]}}},
{"data": {"name": "points"}, "transform": [{"filter": "datum.ab == 'REGN10987' && isValid(datum.hi)"}], "mark": {"type": "rule", "strokeWidth": 1.2}, "encoding": {"x": {"field": "lx", "type": "quantitative", "axis": null}, "y": {"field": "y", "type": "quantitative", "title": "Neutralization (%)", "scale": {"domain": [-25, 111], "nice": false, "zero": false}, "axis": {"values": [-25, 0, 25, 50, 75, 100], "labelExpr": "toString(datum.value)", "labelOverlap": false, "tickSize": 5}}, "y2": {"field": "hi"}, "color": {"condition": {"test": "datum.v == 'D614G'", "value": "#ff0000"}, "value": "#ff6060"}}},
{"data": {"name": "points"}, "transform": [{"filter": "datum.ab == 'REGN10987' && isValid(datum.hi)"}], "mark": {"type": "tick", "orient": "horizontal", "size": 7, "thickness": 1.2}, "encoding": {"x": {"field": "lx", "type": "quantitative", "axis": null}, "y": {"field": "hi", "type": "quantitative", "title": "Neutralization (%)", "scale": {"domain": [-25, 111], "nice": false, "zero": false}, "axis": {"values": [-25, 0, 25, 50, 75, 100], "labelExpr": "toString(datum.value)", "labelOverlap": false, "tickSize": 5}}, "color": {"condition": {"test": "datum.v == 'D614G'", "value": "#ff0000"}, "value": "#ff6060"}}},
{"data": {"name": "points"}, "transform": [{"filter": "datum.ab == 'REGN10987'"}], "mark": {"type": "point", "filled": true, "stroke": "#ff0000", "strokeWidth": 1.5, "size": 45, "opacity": 1}, "encoding": {"x": {"field": "lx", "type": "quantitative", "title": "mAb (ng/mL)", "axis": {"orient": "bottom", "values": [-2, -1, 0, 1, 2, 3, 4, 5], "labelExpr": "'10' + ['⁻²','⁻¹','⁰','¹','²','³','⁴','⁵'][datum.value + 2]", "labelOverlap": false, "labelFlush": false, "tickSize": 5}}, "y": {"field": "y", "type": "quantitative", "title": "Neutralization (%)", "scale": {"domain": [-25, 111], "nice": false, "zero": false}, "axis": {"values": [-25, 0, 25, 50, 75, 100], "labelExpr": "toString(datum.value)", "labelOverlap": false, "tickSize": 5}}, "fill": {"field": "v", "type": "nominal", "scale": {"domain": ["D614G", "D614G, S494P"], "range": ["#ff0000", "#ffffff"]}, "legend": null}}}
]},
{"title": "REGN10933", "width": 174, "height": 174, "resolve": {"axis": {"x": "independent"}}, "layer": [
{"data": {"name": "levels"}, "mark": {"type": "rule", "strokeDash": [4, 3], "color": "black", "strokeWidth": 1.3}, "encoding": {"y": {"field": "y", "type": "quantitative", "title": "Neutralization (%)", "scale": {"domain": [-25, 111], "nice": false, "zero": false}, "axis": {"values": [-25, 0, 25, 50, 75, 100], "labelExpr": "toString(datum.value)", "labelOverlap": false, "tickSize": 5}}}},
{"data": {"name": "curves"}, "transform": [{"filter": "datum.ab == 'REGN10933'"}], "mark": {"type": "line", "interpolate": "monotone", "color": "#ff0000", "strokeWidth": 1.2}, "encoding": {"x": {"field": "lx", "type": "quantitative", "scale": {"domain": [-2, 5], "nice": false, "zero": false}, "axis": {"orient": "bottom", "title": null, "labels": false, "domain": false, "tickSize": 2.5, "values": [-1.699,-1.523,-1.398,-1.301,-1.222,-1.155,-1.097,-1.046,-0.699,-0.523,-0.398,-0.301,-0.222,-0.155,-0.097,-0.046,0.301,0.477,0.602,0.699,0.778,0.845,0.903,0.954,1.301,1.477,1.602,1.699,1.778,1.845,1.903,1.954,2.301,2.477,2.602,2.699,2.778,2.845,2.903,2.954,3.301,3.477,3.602,3.699,3.778,3.845,3.903,3.954,4.301,4.477,4.602,4.699,4.778,4.845,4.903,4.954]}}, "y": {"field": "y", "type": "quantitative", "title": "Neutralization (%)", "scale": {"domain": [-25, 111], "nice": false, "zero": false}, "axis": {"values": [-25, 0, 25, 50, 75, 100], "labelExpr": "toString(datum.value)", "labelOverlap": false, "tickSize": 5}}, "detail": {"field": "v", "type": "nominal"}, "strokeDash": {"condition": {"test": "datum.v == 'D614G'", "value": [1, 0]}, "value": [2, 1.5]}}},
{"data": {"name": "points"}, "transform": [{"filter": "datum.ab == 'REGN10933' && isValid(datum.hi)"}], "mark": {"type": "rule", "strokeWidth": 1.2}, "encoding": {"x": {"field": "lx", "type": "quantitative", "axis": null}, "y": {"field": "y", "type": "quantitative", "title": "Neutralization (%)", "scale": {"domain": [-25, 111], "nice": false, "zero": false}, "axis": {"values": [-25, 0, 25, 50, 75, 100], "labelExpr": "toString(datum.value)", "labelOverlap": false, "tickSize": 5}}, "y2": {"field": "hi"}, "color": {"condition": {"test": "datum.v == 'D614G'", "value": "#ff0000"}, "value": "#ff6060"}}},
{"data": {"name": "points"}, "transform": [{"filter": "datum.ab == 'REGN10933' && isValid(datum.hi)"}], "mark": {"type": "tick", "orient": "horizontal", "size": 7, "thickness": 1.2}, "encoding": {"x": {"field": "lx", "type": "quantitative", "axis": null}, "y": {"field": "hi", "type": "quantitative", "title": "Neutralization (%)", "scale": {"domain": [-25, 111], "nice": false, "zero": false}, "axis": {"values": [-25, 0, 25, 50, 75, 100], "labelExpr": "toString(datum.value)", "labelOverlap": false, "tickSize": 5}}, "color": {"condition": {"test": "datum.v == 'D614G'", "value": "#ff0000"}, "value": "#ff6060"}}},
{"data": {"name": "points"}, "transform": [{"filter": "datum.ab == 'REGN10933'"}], "mark": {"type": "point", "filled": true, "stroke": "#ff0000", "strokeWidth": 1.5, "size": 45, "opacity": 1}, "encoding": {"x": {"field": "lx", "type": "quantitative", "title": "mAb (ng/mL)", "axis": {"orient": "bottom", "values": [-2, -1, 0, 1, 2, 3, 4, 5], "labelExpr": "'10' + ['⁻²','⁻¹','⁰','¹','²','³','⁴','⁵'][datum.value + 2]", "labelOverlap": false, "labelFlush": false, "tickSize": 5}}, "y": {"field": "y", "type": "quantitative", "title": "Neutralization (%)", "scale": {"domain": [-25, 111], "nice": false, "zero": false}, "axis": {"values": [-25, 0, 25, 50, 75, 100], "labelExpr": "toString(datum.value)", "labelOverlap": false, "tickSize": 5}}, "fill": {"field": "v", "type": "nominal", "scale": {"domain": ["D614G", "D614G, S494P"], "range": ["#ff0000", "#ffffff"]}, "legend": {"title": null, "orient": "right", "offset": 0, "padding": 10, "symbolType": "M-1,0L-0.55,0M0.55,0L1,0M0.55,0A0.55,0.55,0,1,1,-0.55,0A0.55,0.55,0,1,1,0.55,0Z", "symbolSize": 150, "symbolStrokeColor": "#ff0000", "symbolStrokeWidth": 1.5, "labelFontSize": 10.5, "labelFont": "Liberation Sans", "labelColor": "black", "rowPadding": 5, "labelOffset": 6}}}}
]}
]}
]},
{"title": {"text": "B", "anchor": "start", "fontSize": 22, "fontWeight": "normal", "offset": 2, "frame": "group", "dx": -35},
 "width": 637, "height": 169,
 "layer": [
 {"data": {"values": [{}]}, "mark": {"type": "rule", "strokeWidth": 1.8, "color": "black"}, "encoding": {"x": {"datum": 15.2, "type": "quantitative", "scale": {"domain": [0, 100], "nice": false, "zero": false}, "axis": null}, "x2": {"datum": 100}, "y": {"datum": -2.15, "type": "quantitative", "scale": {"domain": [-2.15, 6.3], "nice": false, "zero": false, "reverse": true}, "axis": null}}},
 {"data": {"values": [{}]}, "mark": {"type": "rule", "strokeWidth": 1.3, "color": "black"}, "encoding": {"x": {"datum": 15.2, "type": "quantitative"}, "x2": {"datum": 100}, "y": {"datum": 0.25, "type": "quantitative"}}},
 {"data": {"values": [{}]}, "mark": {"type": "rule", "strokeWidth": 1.8, "color": "black"}, "encoding": {"x": {"datum": 15.2, "type": "quantitative"}, "x2": {"datum": 100}, "y": {"datum": 6.3, "type": "quantitative"}}},
 {"data": {"values": [{}]}, "mark": {"type": "text", "text": "Antibody", "align": "left", "baseline": "middle", "font": "Lato", "fontSize": 13, "fontWeight": "bold", "color": "black"}, "encoding": {"x": {"datum": 15.2, "type": "quantitative"}, "y": {"datum": -1.65, "type": "quantitative"}}},
 {"data": {"values": [{}]}, "mark": {"type": "text", "text": "EC50 (ng/mL)", "align": "center", "baseline": "middle", "font": "Lato", "fontSize": 13, "fontWeight": "bold", "color": "black"}, "encoding": {"x": {"datum": 58.9, "type": "quantitative"}, "y": {"datum": -1.65, "type": "quantitative"}}},
 {"data": {"values": [{}]}, "mark": {"type": "text", "text": "Fold-change", "align": "center", "baseline": "middle", "font": "Lato", "fontSize": 13, "fontWeight": "bold", "color": "black"}, "encoding": {"x": {"datum": 88.4, "type": "quantitative"}, "y": {"datum": -1.65, "type": "quantitative"}}},
 {"data": {"values": [{}]}, "mark": {"type": "text", "text": "D614G", "align": "center", "baseline": "middle", "font": "Lato", "fontSize": 13, "color": "black"}, "encoding": {"x": {"datum": 49.0, "type": "quantitative"}, "y": {"datum": -0.6, "type": "quantitative"}}},
 {"data": {"values": [{}]}, "mark": {"type": "text", "text": "D614G, S494P", "align": "center", "baseline": "middle", "font": "Lato", "fontSize": 13, "color": "black"}, "encoding": {"x": {"datum": 66.4, "type": "quantitative"}, "y": {"datum": -0.6, "type": "quantitative"}}},
 {"data": {"name": "table"}, "mark": {"type": "text", "align": "left", "baseline": "middle", "font": "Lato", "fontSize": 13, "color": "black"}, "encoding": {"x": {"datum": 15.2, "type": "quantitative"}, "y": {"field": "row", "type": "quantitative"}, "text": {"field": "Antibody"}}},
 {"data": {"name": "table"}, "mark": {"type": "text", "align": "center", "baseline": "middle", "font": "Lato", "fontSize": 13, "color": "black"}, "encoding": {"x": {"datum": 49.0, "type": "quantitative"}, "y": {"field": "row", "type": "quantitative"}, "text": {"field": "D614G"}}},
 {"data": {"name": "table"}, "mark": {"type": "text", "align": "center", "baseline": "middle", "font": "Lato", "fontSize": 13, "color": "black"}, "encoding": {"x": {"datum": 66.4, "type": "quantitative"}, "y": {"field": "row", "type": "quantitative"}, "text": {"field": "S494P"}}},
 {"data": {"name": "table"}, "mark": {"type": "text", "align": "center", "baseline": "middle", "font": "Lato", "fontSize": 13}, "encoding": {"x": {"datum": 88.4, "type": "quantitative"}, "y": {"field": "row", "type": "quantitative"}, "text": {"field": "Fold"}, "color": {"condition": {"test": "indexof(datum.Fold, '>') == 0 || toNumber(datum.Fold) > 2", "value": "#ff1a1a"}, "value": "black"}}}
 ]}
],
"config": {
 "view": {"stroke": null},
 "font": "Liberation Sans",
 "title": {"fontSize": 11, "fontWeight": "bold", "font": "Liberation Sans", "offset": 13, "color": "black"},
 "axis": {"grid": false, "domainColor": "black", "tickColor": "black", "labelColor": "black", "titleColor": "black", "labelFontSize": 11, "titleFontSize": 10, "titleFontWeight": "normal", "labelFont": "Liberation Sans", "titleFont": "Liberation Sans", "domainWidth": 1.2, "tickWidth": 1.2},
 "axisY": {"tickSize": 5, "labelPadding": 2, "titlePadding": 4},
 "axisX": {"labelPadding": 1, "titlePadding": 3}
}
}
